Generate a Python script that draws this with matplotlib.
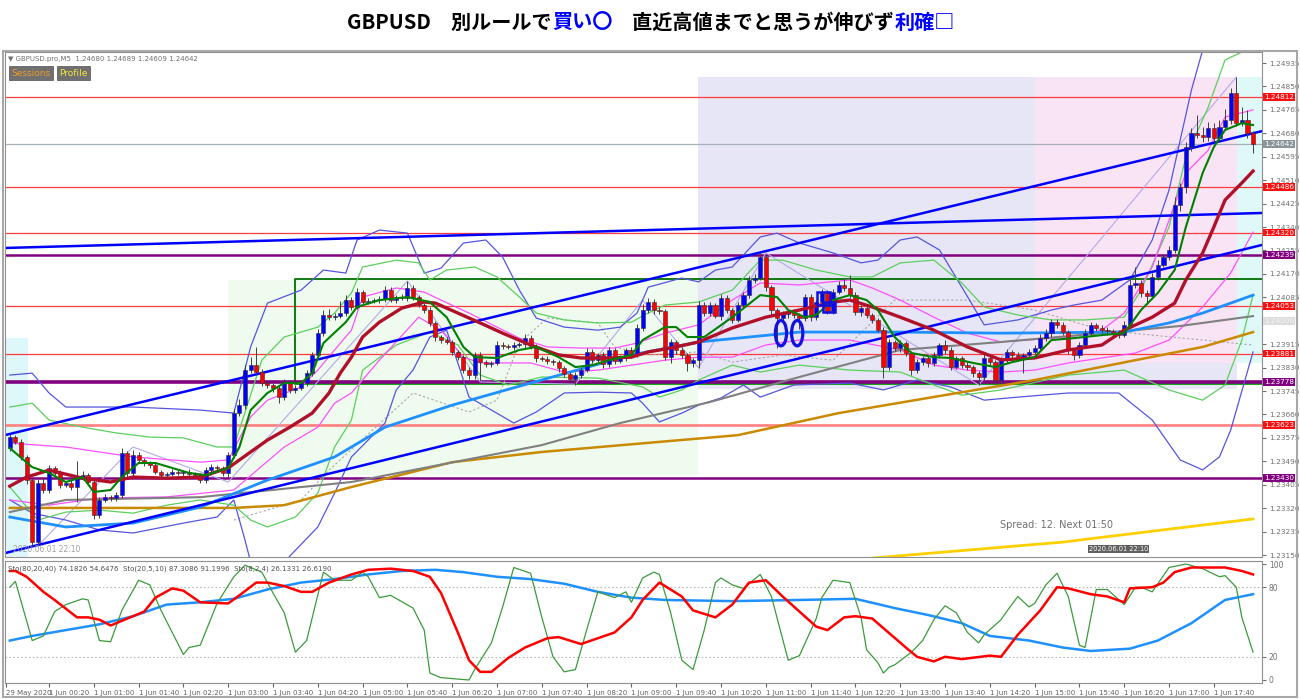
import matplotlib.pyplot as plt
from matplotlib.patches import Rectangle, Ellipse

plt.rcParams['font.family'] = ['DejaVu Sans']

# ---------------- M5 bars, GBPUSD ----------------
first_open = 1.23538
closes = [
    1.23578, 1.23560, 1.23506, 1.23422, 1.23197, 1.23411, 1.23386, 1.23466, 1.23448, 1.23404,
    1.23411, 1.23397, 1.23433, 1.23440, 1.23415, 1.23295, 1.23350, 1.23361, 1.23357, 1.23368,
    1.23520, 1.23448, 1.23513, 1.23495, 1.23484, 1.23477, 1.23451, 1.23440, 1.23444, 1.23451,
    1.23448, 1.23451, 1.23444, 1.23440, 1.23422, 1.23458, 1.23469, 1.23466, 1.23448, 1.23513,
    1.23665, 1.23695, 1.23821, 1.23839, 1.23814, 1.23774, 1.23767, 1.23756, 1.23723, 1.23778,
    1.23749, 1.23756, 1.23774, 1.23810, 1.23876, 1.23955, 1.24021, 1.24013, 1.24017, 1.24028,
    1.24075, 1.24050, 1.24104, 1.24068, 1.24071, 1.24075, 1.24079, 1.24111, 1.24075, 1.24086,
    1.24082, 1.24119, 1.24086, 1.24057, 1.24039, 1.23992, 1.23941, 1.23930, 1.23923, 1.23887,
    1.23868, 1.23821, 1.23803, 1.23876, 1.23850, 1.23843, 1.23847, 1.23912, 1.23908, 1.23905,
    1.23912, 1.23915, 1.23937, 1.23908, 1.23865, 1.23862, 1.23854, 1.23850, 1.23829, 1.23807,
    1.23789, 1.23803, 1.23821, 1.23887, 1.23857, 1.23876, 1.23843, 1.23894, 1.23854, 1.23865,
    1.23894, 1.23876, 1.23974, 1.24039, 1.24068, 1.24039, 1.24035, 1.23868, 1.23923, 1.23894,
    1.23876, 1.23847, 1.23857, 1.24057, 1.24028, 1.24057, 1.24017, 1.24082, 1.24039, 1.24003,
    1.24057, 1.24093, 1.24148, 1.24155, 1.24231, 1.24122, 1.24039, 1.24010, 1.24024, 1.24032,
    1.24021, 1.24010, 1.24086, 1.24013, 1.24068, 1.24101, 1.24035, 1.24104, 1.24130, 1.24119,
    1.24093, 1.24032, 1.24046, 1.24021, 1.24003, 1.23966, 1.23832, 1.23923, 1.23901, 1.23919,
    1.23883, 1.23821, 1.23850, 1.23865, 1.23847, 1.23876, 1.23912, 1.23894, 1.23832, 1.23865,
    1.23839, 1.23832, 1.23810, 1.23796, 1.23865, 1.23850, 1.23785, 1.23857, 1.23887, 1.23876,
    1.23868, 1.23876, 1.23887, 1.23901, 1.23937, 1.23955, 1.23995, 1.23985, 1.23959, 1.23894,
    1.23876, 1.23912, 1.23955, 1.23985, 1.23974, 1.23966, 1.23962, 1.23955, 1.23948, 1.23985,
    1.24130, 1.24137, 1.24101, 1.24090, 1.24159, 1.24202, 1.24231, 1.24257, 1.24420, 1.24485,
    1.24630, 1.24681, 1.24674, 1.24667, 1.24699, 1.24663, 1.24703, 1.24728, 1.24826, 1.24717,
    1.24728, 1.24680, 1.24642,
]
# wick lengths beyond the body, in points (0.00001)
hi_ext = [
    10, 8, 12, 6, 8, 14, 20, 12, 6, 10, 8, 10, 60, 14, 8, 6, 12, 10, 8, 12,
    20, 8, 18, 10, 6, 8, 10, 6, 8, 10, 6, 8, 10, 6, 8, 12, 10, 6, 8, 10,
    14, 20, 18, 30, 65, 10, 8, 6, 10, 12, 8, 10, 6, 10, 12, 14, 18, 20, 12, 45,
    20, 10, 16, 8, 10, 8, 12, 14, 10, 8, 12, 25, 10, 8, 8, 10, 6, 8, 10, 6,
    8, 6, 10, 12, 10, 8, 8, 14, 10, 8, 10, 8, 14, 10, 6, 8, 10, 6, 8, 6,
    8, 10, 12, 16, 10, 8, 10, 12, 8, 10, 8, 10, 14, 20, 16, 10, 12, 8, 10, 8,
    10, 6, 8, 14, 12, 10, 8, 14, 12, 8, 10, 12, 14, 16, 18, 10, 8, 6, 10, 8,
    10, 8, 12, 10, 8, 14, 10, 12, 14, 20, 47, 10, 12, 8, 6, 8, 10, 12, 8, 10,
    6, 8, 10, 8, 10, 12, 8, 20, 10, 8, 8, 10, 6, 8, 14, 12, 8, 12, 10, 8,
    10, 8, 12, 10, 14, 16, 12, 10, 12, 8, 8, 10, 14, 12, 8, 10, 12, 8, 10, 14,
    20, 58, 10, 12, 14, 18, 12, 16, 30, 14, 20, 18, 65, 30, 22, 20, 25, 40, 20, 58,
    47, 35, 9,
]
lo_ext = [
    10, 8, 12, 14, 15, 11, 12, 10, 8, 10, 8, 10, 54, 10, 12, 14, 10, 8, 12, 10,
    10, 14, 10, 8, 10, 12, 8, 6, 10, 8, 8, 10, 6, 8, 12, 10, 8, 10, 12, 14,
    10, 12, 14, 10, 8, 10, 12, 14, 20, 10, 12, 10, 8, 12, 10, 8, 10, 12, 10, 8,
    10, 12, 8, 10, 6, 8, 10, 12, 8, 10, 8, 10, 12, 8, 10, 12, 14, 10, 8, 12,
    10, 12, 14, 16, 65, 10, 12, 8, 10, 8, 10, 8, 12, 10, 14, 8, 10, 12, 14, 10,
    12, 22, 10, 8, 12, 10, 14, 10, 12, 8, 10, 12, 8, 10, 12, 14, 10, 12, 20, 14,
    12, 30, 14, 29, 10, 12, 8, 14, 10, 12, 8, 10, 12, 10, 8, 14, 20, 108, 12, 14,
    12, 40, 10, 14, 12, 8, 12, 10, 8, 10, 12, 10, 14, 12, 10, 8, 40, 12, 10, 14,
    12, 18, 10, 12, 14, 10, 12, 14, 10, 8, 12, 10, 14, 29, 10, 12, 14, 10, 12, 10,
    12, 58, 10, 8, 12, 10, 14, 10, 12, 14, 18, 10, 12, 8, 10, 12, 14, 10, 12, 8,
    10, 12, 14, 30, 10, 12, 8, 10, 12, 22, 20, 15, 12, 18, 14, 16, 10, 12, 14, 10,
    12, 16, 33,
]

# ---------------- indicator lines (bar index, price) ----------------
ma_green = [(0, 1.23538), (4, 1.23469), (7, 1.23448), (10, 1.23415), (13, 1.23433), (15, 1.23379),
            (18, 1.23386), (20, 1.23433), (23, 1.23484), (26, 1.23484), (29, 1.23466), (32, 1.23448),
            (35, 1.23440), (39, 1.23466), (41, 1.23542), (43, 1.23676), (46, 1.23738), (49, 1.23774),
            (52, 1.23774), (54, 1.23810), (56, 1.23919), (60, 1.23995), (62, 1.24050), (66, 1.24075),
            (71, 1.24086), (75, 1.24068), (78, 1.24013), (81, 1.23905), (83, 1.23868), (87, 1.23865),
            (91, 1.23894), (94, 1.23905), (98, 1.23868), (101, 1.23832), (104, 1.23839), (107, 1.23857),
            (111, 1.23876), (113, 1.23930), (117, 1.23977), (119, 1.23977), (121, 1.23941), (124, 1.23941),
            (129, 1.24013), (134, 1.24093), (137, 1.24086), (139, 1.24039), (142, 1.24013), (144, 1.24021),
            (147, 1.24075), (150, 1.24093), (153, 1.24075), (155, 1.24039), (158, 1.23941), (161, 1.23883),
            (165, 1.23868), (168, 1.23865), (172, 1.23847), (176, 1.23832), (179, 1.23850), (183, 1.23868),
            (186, 1.23930), (190, 1.23937), (195, 1.23948), (199, 1.23955), (202, 1.24039), (205, 1.24101),
            (208, 1.24184), (210, 1.24340), (213, 1.24536), (215, 1.24630), (217, 1.24692), (220, 1.24717),
            (222, 1.24710)]
ma_red = [(0, 1.23400), (3, 1.23433), (7, 1.23458), (13, 1.23429), (18, 1.23415), (22, 1.23433),
          (28, 1.23429), (34, 1.23433), (39, 1.23466), (43, 1.23524), (46, 1.23567), (50, 1.23614),
          (54, 1.23665), (57, 1.23738), (59, 1.23810), (61, 1.23868), (63, 1.23941), (66, 1.23995),
          (70, 1.24046), (74, 1.24068), (76, 1.24064), (80, 1.24028), (84, 1.23992), (88, 1.23955),
          (93, 1.23912), (98, 1.23876), (102, 1.23865), (107, 1.23865), (111, 1.23868), (114, 1.23887),
          (118, 1.23901), (123, 1.23923), (129, 1.23974), (135, 1.24013), (141, 1.24039), (147, 1.24068),
          (150, 1.24075), (154, 1.24050), (159, 1.24013), (165, 1.23966), (171, 1.23905), (177, 1.23858),
          (183, 1.23865), (189, 1.23894), (195, 1.23912), (199, 1.23966), (204, 1.24013), (208, 1.24064),
          (210, 1.24148), (213, 1.24246), (215, 1.24340), (217, 1.24438), (220, 1.24500), (222, 1.24543)]
ma_blue = [(0, 1.23288), (10, 1.23252), (22, 1.23266), (34, 1.23324), (46, 1.23422), (58, 1.23506),
           (67, 1.23614), (79, 1.23694), (93, 1.23774), (111, 1.23876), (123, 1.23923), (141, 1.23959),
           (159, 1.23959), (177, 1.23955), (199, 1.23959), (207, 1.23992), (213, 1.24028), (218, 1.24064),
           (222, 1.24093)]
ma_gray = [(0, 1.23306), (10, 1.23350), (34, 1.23360), (61, 1.23415), (95, 1.23549), (109, 1.23629),
           (125, 1.23705), (141, 1.23796), (159, 1.23894), (177, 1.23923), (195, 1.23955), (209, 1.23981),
           (222, 1.24017)]
ma_brown = [(0, 1.23321), (40, 1.23321), (49, 1.23331), (61, 1.23397), (79, 1.23487), (95, 1.23524),
            (130, 1.23585), (148, 1.23665), (166, 1.23727), (183, 1.23785), (201, 1.23857), (213, 1.23905),
            (222, 1.23959)]
ma_yellow = [(142, 1.23105), (154, 1.23139), (188, 1.23197), (222, 1.23281)]

bb_blue_up = [(0, 1.23803), (4, 1.23810), (7, 1.23738), (10, 1.23687), (22, 1.23687), (34, 1.23676),
              (40, 1.23665), (43, 1.23905), (46, 1.24064), (52, 1.24111), (56, 1.24184), (60, 1.24173),
              (62, 1.24293), (66, 1.24329), (71, 1.24318), (74, 1.24173), (77, 1.24191), (81, 1.24282),
              (85, 1.24293), (88, 1.24231), (91, 1.24111), (94, 1.24010), (99, 1.23977), (105, 1.23966),
              (109, 1.23977), (112, 1.24028), (114, 1.24122), (120, 1.24155), (123, 1.24141), (126, 1.24184),
              (129, 1.24195), (134, 1.24304), (137, 1.24318), (141, 1.24282), (147, 1.24246), (152, 1.24210),
              (155, 1.24220), (159, 1.24293), (162, 1.24304), (166, 1.24257), (170, 1.24122), (174, 1.23985),
              (180, 1.24003), (186, 1.24039), (190, 1.24057), (195, 1.24075), (200, 1.24148), (204, 1.24293),
              (207, 1.24474), (209, 1.24656), (211, 1.24837), (213, 1.24982), (214, 1.25127)]
bb_blue_lo = [(0, 1.23350), (4, 1.23302), (10, 1.23277), (16, 1.23241), (22, 1.23230), (31, 1.23266),
              (37, 1.23288), (40, 1.23350), (42, 1.23204), (43, 1.23125), (49, 1.23125), (55, 1.23252),
              (58, 1.23375), (61, 1.23506), (67, 1.23629), (69, 1.23749), (72, 1.23821), (75, 1.23941),
              (78, 1.23966), (80, 1.23847), (82, 1.23723), (86, 1.23676), (90, 1.23629), (94, 1.23669),
              (99, 1.23738), (105, 1.23741), (111, 1.23738), (113, 1.23701), (116, 1.23633), (120, 1.23665),
              (123, 1.23694), (127, 1.23720), (131, 1.23767), (134, 1.23723), (140, 1.23767), (150, 1.23774),
              (156, 1.23749), (162, 1.23785), (168, 1.23760), (174, 1.23712), (180, 1.23723), (189, 1.23738),
              (198, 1.23738), (204, 1.23640), (209, 1.23495), (213, 1.23459), (216, 1.23506), (218, 1.23603),
              (222, 1.23887)]
bb_green_up = [(0, 1.23687), (4, 1.23701), (7, 1.23640), (13, 1.23614), (19, 1.23593), (25, 1.23578),
               (31, 1.23575), (37, 1.23542), (40, 1.23542), (45, 1.23857), (49, 1.23941), (55, 1.23977),
               (58, 1.24028), (61, 1.24101), (63, 1.24195), (69, 1.24220), (73, 1.24210), (75, 1.24148),
               (78, 1.24184), (83, 1.24195), (87, 1.24159), (91, 1.24086), (94, 1.24028), (99, 1.24003),
               (105, 1.23992), (111, 1.23995), (114, 1.24028), (117, 1.24057), (123, 1.24068), (129, 1.24111),
               (134, 1.24220), (138, 1.24220), (144, 1.24184), (150, 1.24159), (154, 1.24159), (159, 1.24210),
               (165, 1.24220), (170, 1.24137), (174, 1.24050), (180, 1.24021), (186, 1.24003), (192, 1.24003),
               (199, 1.24013), (202, 1.24111), (207, 1.24340), (210, 1.24594), (214, 1.24775), (217, 1.24946),
               (220, 1.24975), (222, 1.25000)]
bb_green_lo = [(0, 1.23397), (5, 1.23277), (10, 1.23306), (16, 1.23313), (22, 1.23302), (28, 1.23331),
               (34, 1.23350), (40, 1.23331), (43, 1.23277), (46, 1.23252), (51, 1.23288), (55, 1.23375),
               (58, 1.23542), (61, 1.23640), (63, 1.23821), (69, 1.23912), (75, 1.23959), (80, 1.23912),
               (84, 1.23803), (89, 1.23767), (95, 1.23796), (105, 1.23792), (113, 1.23760), (116, 1.23723),
               (120, 1.23749), (123, 1.23785), (129, 1.23839), (134, 1.23814), (141, 1.23839), (150, 1.23821),
               (159, 1.23814), (165, 1.23767), (170, 1.23730), (177, 1.23749), (189, 1.23803), (199, 1.23821),
               (207, 1.23749), (213, 1.23712), (217, 1.23767), (220, 1.23930), (222, 1.24093)]
bb_mag_up = [(0, 1.23556), (10, 1.23542), (22, 1.23506), (34, 1.23487), (39, 1.23495), (43, 1.23651),
             (46, 1.23712), (52, 1.23760), (55, 1.23821), (58, 1.23894), (61, 1.23966), (63, 1.24086),
             (69, 1.24119), (74, 1.24104), (77, 1.24075), (82, 1.24028), (87, 1.23977), (91, 1.23937),
             (96, 1.23905), (102, 1.23901), (108, 1.23901), (112, 1.23919), (117, 1.23955), (123, 1.23985),
             (129, 1.24075), (134, 1.24137), (141, 1.24130), (150, 1.24148), (154, 1.24119), (159, 1.24075),
             (165, 1.24013), (171, 1.23955), (177, 1.23923), (189, 1.23941), (195, 1.23966), (199, 1.24028),
             (204, 1.24195), (207, 1.24365), (210, 1.24536), (214, 1.24619), (217, 1.24739), (222, 1.24765)]
bb_mag_lo = [(0, 1.23350), (7, 1.23331), (16, 1.23357), (28, 1.23361), (40, 1.23386), (49, 1.23542),
             (55, 1.23614), (58, 1.23701), (61, 1.23738), (66, 1.23857), (73, 1.24013), (77, 1.23966),
             (81, 1.23868), (84, 1.23847), (93, 1.23847), (99, 1.23814), (105, 1.23821), (117, 1.23857),
             (123, 1.23868), (129, 1.23868), (135, 1.23912), (141, 1.23930), (150, 1.23930), (159, 1.23894),
             (165, 1.23839), (171, 1.23821), (177, 1.23814), (183, 1.23821), (189, 1.23847), (201, 1.23883),
             (207, 1.23930), (213, 1.24050), (218, 1.24173), (222, 1.24322)]
envelope_dotted = [(40, 1.23277), (52, 1.23350), (57, 1.23458), (72, 1.23738), (82, 1.23669), (87, 1.23712),
                   (91, 1.23919), (96, 1.24010), (105, 1.23992), (108, 1.23905), (114, 1.23876), (123, 1.23887),
                   (129, 1.23850), (138, 1.23876), (147, 1.23857), (158, 1.24075), (171, 1.24075),
                   (183, 1.24039), (195, 1.23966), (204, 1.23948), (222, 1.23912)]
zigzag = [(5, 1.23183), (22, 1.23542), (39, 1.23415), (71, 1.24144), (84, 1.23778), (101, 1.23770),
          (113, 1.24075), (123, 1.23829), (135, 1.24246), (173, 1.23767), (219, 1.24884)]

# trend lines
trend_upper = [(-0.9, 1.23585), (223.6, 1.24688)]
trend_lower = [(-0.9, 1.23157), (223.6, 1.24275)]
trend_flat = [(-0.9, 1.24264), (223.6, 1.24391)]

# horizontal levels
red_levels = [1.24812, 1.24486, 1.24320, 1.24053, 1.23881]
pink_level = 1.23623
purple_levels = [1.24239, 1.23430]
purple_main = 1.23778
last_price = 1.24642
marker_level = 1.24000
box_left, box_top, box_bottom = 51, 1.24151, 1.23778

# session boxes: (first bar, last bar, top, bottom)
sessions = [(-0.9, 3.25, 1.23937, 1.23100), (39.0, 122.9, 1.24148, 1.23440),
            (122.9, 219.1, 1.24884, 1.23752), (183.1, 219.1, 1.24884, 1.23847),
            (219.1, 224.0, 1.24884, 1.23847)]
session_colors = ['#def7fb', '#eefbee', '#e6e6f6', '#f8e4f5', '#dff8f8']

price_ticks = [1.24935, 1.24850, 1.24765, 1.24680, 1.24595, 1.24510, 1.24425, 1.24340,
               1.24255, 1.24170, 1.24085, 1.24000, 1.23915, 1.23830, 1.23745, 1.23660,
               1.23575, 1.23490, 1.23405, 1.23320, 1.23235, 1.23150]

# ---------------- stochastics (bar index, value) ----------------
sto_red = [(0, 94), (1, 94), (3, 89), (6, 76), (8, 69), (12, 54), (14, 54), (16, 52), (18, 47), (21, 53),
           (24, 59), (26, 71), (29, 79), (31, 77), (34, 67), (39, 66), (41, 73), (44, 84), (46, 84), (49, 81),
           (52, 76), (54, 76), (57, 84), (61, 91), (64, 95), (68, 96), (72, 94), (75, 89), (77, 75), (80, 41),
           (82, 17), (84, 7), (86, 7), (89, 19), (92, 28), (96, 36), (98, 37), (102, 31), (105, 36), (108, 41),
           (111, 54), (113, 69), (116, 84), (120, 72), (122, 60), (126, 54), (129, 65), (132, 84), (135, 86),
           (138, 72), (141, 59), (144, 46), (146, 43), (149, 54), (151, 55), (154, 53), (160, 28), (162, 20),
           (165, 16), (167, 20), (170, 18), (175, 21), (177, 20), (180, 39), (184, 60), (187, 80), (189, 79),
           (193, 74), (196, 72), (199, 67), (200, 79), (204, 80), (206, 84), (208, 93), (211, 97), (217, 97),
           (220, 94), (222, 91)]
sto_blue = [(0, 34), (4, 38), (10, 43), (16, 48), (22, 55), (28, 65), (34, 67), (40, 70), (46, 78), (52, 84),
            (58, 87), (64, 91), (70, 94), (76, 95), (81, 93), (87, 89), (93, 87), (99, 83), (105, 76), (111, 71),
            (117, 69), (129, 68), (141, 69), (151, 70), (158, 62), (164, 56), (170, 49), (175, 38), (182, 34),
            (188, 28), (193, 25), (200, 27), (205, 34), (211, 49), (217, 69), (222, 74)]
sto_green = [(0, 80), (1, 85), (4, 34), (6, 38), (8, 59), (10, 65), (13, 70), (14, 69), (16, 34), (18, 33),
             (20, 60), (23, 86), (25, 82), (27, 60), (31, 22), (32, 28), (34, 30), (37, 66), (40, 89), (42, 99),
             (45, 93), (47, 75), (49, 58), (51, 24), (53, 34), (56, 93), (58, 86), (61, 86), (63, 93), (64, 89),
             (66, 71), (68, 73), (72, 62), (74, 43), (75, 6), (77, 2), (82, 0), (83, 9), (86, 32), (88, 63),
             (90, 97), (93, 92), (95, 54), (97, 20), (99, 7), (101, 9), (103, 43), (105, 76), (108, 71), (110, 76),
             (111, 67), (113, 88), (115, 93), (116, 91), (118, 58), (120, 17), (122, 9), (124, 43), (126, 84),
             (127, 88), (129, 82), (131, 79), (134, 91), (136, 72), (139, 17), (141, 21), (144, 53), (145, 71),
             (147, 86), (150, 84), (152, 54), (153, 26), (155, 15), (156, 6), (157, 11), (158, 13), (161, 24),
             (163, 34), (165, 52), (167, 64), (169, 58), (171, 41), (173, 32), (174, 39), (177, 52), (178, 59),
             (180, 72), (182, 63), (183, 66), (185, 82), (187, 92), (189, 72), (191, 30), (192, 28), (194, 78),
             (196, 78), (199, 65), (201, 80), (202, 80), (204, 76), (207, 97), (210, 100), (213, 96), (216, 89),
             (217, 90), (219, 80), (220, 54), (222, 24)]

time_ticks = [7 + 8 * k for k in range(27)]
time_labels = ['1 Jun 00:20', '1 Jun 01:00', '1 Jun 01:40', '1 Jun 02:20', '1 Jun 03:00', '1 Jun 03:40',
               '1 Jun 04:20', '1 Jun 05:00', '1 Jun 05:40', '1 Jun 06:20', '1 Jun 07:00', '1 Jun 07:40',
               '1 Jun 08:20', '1 Jun 09:00', '1 Jun 09:40', '1 Jun 10:20', '1 Jun 11:00', '1 Jun 11:40',
               '1 Jun 12:20', '1 Jun 13:00', '1 Jun 13:40', '1 Jun 14:20', '1 Jun 15:00', '1 Jun 15:40',
               '1 Jun 16:20', '1 Jun 17:00', '1 Jun 17:40']


def line(ax, pts, **kw):
    xs, ys = zip(*pts)
    ax.plot(xs, ys, **kw)


fig = plt.figure(figsize=(13, 6.99), dpi=100)
ax = fig.add_axes([5 / 1300, 1 - 557 / 699, 1257 / 1300, 505 / 699])
ax2 = fig.add_axes([5 / 1300, 1 - 683 / 699, 1257 / 1300, 122 / 699])

# outer frame
fig.add_artist(Rectangle((3 / 1300, 2 / 699), 1294 / 1300, 646 / 699, transform=fig.transFigure,
                         fill=False, edgecolor='#a8a8a8', lw=1.5))

# ---- main panel ----
for (x0, x1, top, bot), c in zip(sessions, session_colors):
    ax.add_patch(Rectangle((x0, bot), x1 - x0, top - bot, facecolor=c, edgecolor='none', zorder=0))

for lv in red_levels:
    ax.axhline(lv, color='#ff3b3b', lw=0.9, zorder=1)
ax.axhline(pink_level, color='#ff8585', lw=2, zorder=1)
for lv in purple_levels:
    ax.axhline(lv, color='#800080', lw=1.8, zorder=1)
ax.axhline(last_price, color='#a7b0b8', lw=0.9, zorder=1)
ax.plot([box_left, 230], [box_bottom - 0.00004, box_bottom - 0.00004], color='#00a000', lw=2, zorder=1)
ax.axhline(purple_main, color='#800080', lw=2.6, zorder=1.1)
ax.plot([box_left, box_left, 230], [box_bottom, box_top, box_top], color='#007000', lw=1.3, zorder=1)

line(ax, envelope_dotted, color='#a8a8a8', lw=0.8, ls=(0, (2, 2)), zorder=1.4)
line(ax, zigzag, color='#b4a8e8', lw=0.8, zorder=1.5)
for pts, c in [(bb_blue_up, '#5555e0'), (bb_blue_lo, '#5555e0'), (bb_green_up, '#5ccf5c'),
               (bb_green_lo, '#5ccf5c'), (bb_mag_up, '#ff50ff'), (bb_mag_lo, '#ff50ff')]:
    line(ax, pts, color=c, lw=0.9, zorder=2)
line(ax, ma_yellow, color='#ffd000', lw=2, zorder=2)
line(ax, ma_brown, color='#c98a00', lw=1.8, zorder=2)
line(ax, ma_gray, color='#808080', lw=1.5, zorder=2)
line(ax, ma_blue, color='#1e90ff', lw=2, zorder=2.2)
for pts in (trend_upper, trend_lower, trend_flat):
    line(ax, pts, color='#0000ff', lw=1.8, zorder=2.5)

# candles
opens = [first_open] + closes[:-1]
for i, (o, c) in enumerate(zip(opens, closes)):
    top, bot = max(o, c), min(o, c)
    ax.vlines(i, bot - lo_ext[i] * 1e-5, top + hi_ext[i] * 1e-5, color='#404040', lw=0.7, zorder=3)
    ax.bar(i, max(top - bot, 0.000015), bottom=bot, width=0.74,
           color='#0000ff' if c >= o else '#ff0000', edgecolor='#303030', lw=0.4, zorder=3.2)

line(ax, ma_red, color='#b0102a', lw=2.4, zorder=4)
line(ax, ma_green, color='#008000', lw=1.5, zorder=4.1)

# hand drawn marks
for cx in (137.7, 140.6):
    ax.add_patch(Ellipse((cx, 1.23955), 2.0, 0.00092, fill=False, edgecolor='#1010e0', lw=2.3, zorder=5))
ax.add_patch(Rectangle((144.2, 1.24057), 2.3, 0.00047, fill=False, edgecolor='#1010e0', lw=1.8, zorder=5))
ax.add_patch(Rectangle((145.2, 1.24032), 2.2, 0.00036, fill=False, edgecolor='#1010e0', lw=1.8, zorder=5))

ax.set_xlim(-0.86, 223.6)
ax.set_ylim(1.23143, 1.24975)
ax.set_xticks([])
ax.yaxis.tick_right()
ax.set_yticks(price_ticks)
# the 1.24000 tick is shown by its own marker box below
ax.set_yticklabels(['' if p == marker_level else f'{p:.5f}' for p in price_ticks])
ax.tick_params(axis='y', labelsize=5.3, colors='#707070', length=3, pad=2)
for s in ax.spines.values():
    s.set_color('#909090')
    s.set_linewidth(0.8)

yt = ax.get_yaxis_transform()
label_boxes = [(lv, '#ff1010', 'white') for lv in red_levels + [pink_level]]
label_boxes += [(lv, '#800080', 'white') for lv in purple_levels + [purple_main]]
label_boxes += [(last_price, '#8a949c', 'white'), (marker_level, '#dcdcdc', '#f4f4f4')]
for lv, bg, fg in label_boxes:
    ax.text(1.0015, lv, f'{lv:.5f}', transform=yt, fontsize=5.2, color=fg, va='center', ha='left',
            bbox=dict(boxstyle='square,pad=0.12', facecolor=bg, edgecolor='none'), zorder=6)

ax.text(0.002, 0.987, '\u25bc GBPUSD.pro,M5  1.24680 1.24689 1.24609 1.24642', transform=ax.transAxes,
        fontsize=5, color='#707070', va='center', ha='left')
ax.text(0.005, 0.958, 'Sessions', transform=ax.transAxes, fontsize=6.5, color='#f09a28', va='center',
        bbox=dict(boxstyle='square,pad=0.25', facecolor='#707070', edgecolor='#505050', lw=0.5))
ax.text(0.043, 0.958, 'Profile', transform=ax.transAxes, fontsize=6.5, color='#f2e640', va='center',
        bbox=dict(boxstyle='square,pad=0.25', facecolor='#707070', edgecolor='#505050', lw=0.5))
ax.text(0.7916, 0.064, 'Spread: 12. Next 01:50', transform=ax.transAxes, fontsize=7, color='#707070',
        va='center', ha='left')
ax.text(0.862, 0.016, '2020.06.01 22:10', transform=ax.transAxes, fontsize=4.8, color='white',
        va='center', ha='left', bbox=dict(boxstyle='square,pad=0.15', facecolor='#606060', edgecolor='none'))
ax.text(0.006, 0.014, '2020.06.01 22:10', transform=ax.transAxes, fontsize=5.5, color='#a0a0a0',
        va='center', ha='left')

# ---- stochastic panel ----
for lv in (80, 20):
    ax2.axhline(lv, color='#b8b8b8', lw=0.8, ls=(0, (1.5, 2)))
line(ax2, sto_blue, color='#1e90ff', lw=1.8)
line(ax2, sto_green, color='#3c9a3c', lw=0.9)
line(ax2, sto_red, color='#ff0000', lw=1.8)
ax2.set_xlim(-0.86, 223.6)
ax2.set_ylim(-2.6, 102.6)
ax2.yaxis.tick_right()
ax2.set_yticks([0, 20, 80, 100])
ax2.tick_params(axis='y', labelsize=5.5, colors='#707070', length=3, pad=2)
ax2.set_xticks([-0.7] + time_ticks)
ax2.set_xticklabels(['29 May 2020'] + time_labels, ha='left')
ax2.tick_params(axis='x', labelsize=5, colors='#606060', length=3, pad=2)
for s in ax2.spines.values():
    s.set_color('#909090')
    s.set_linewidth(0.8)
ax2.text(0.002, 0.94, 'Sto(80,20,40) 74.1826 54.6476  Sto(20,5,10) 87.3086 91.1996  Sto(8,2,4) 26.1331 26.6190',
         transform=ax2.transAxes, fontsize=5, color='#505050', va='center', ha='left')

# ---- title ----
title_parts = [('GBPUSD\u3000別ルールで', 'black'), ('買い〇', '#0000ff'),
               ('\u3000直近高値までと思うが伸びず', 'black'), ('利確□', '#0000ff')]
fam = ['Noto Sans CJK JP', 'DejaVu Sans']
texts = [fig.text(0, 1 - 22 / 699, s, color=c, fontsize=14.5, family=fam, weight='bold',
                  va='center', ha='left') for s, c in title_parts]
fig.canvas.draw()
r = fig.canvas.get_renderer()
widths = [t.get_window_extent(renderer=r).width for t in texts]
x = 651 - sum(widths) / 2
for t, w in zip(texts, widths):
    t.set_x(x / 1300)
    x += w

fig.savefig('out.png', dpi=100)
